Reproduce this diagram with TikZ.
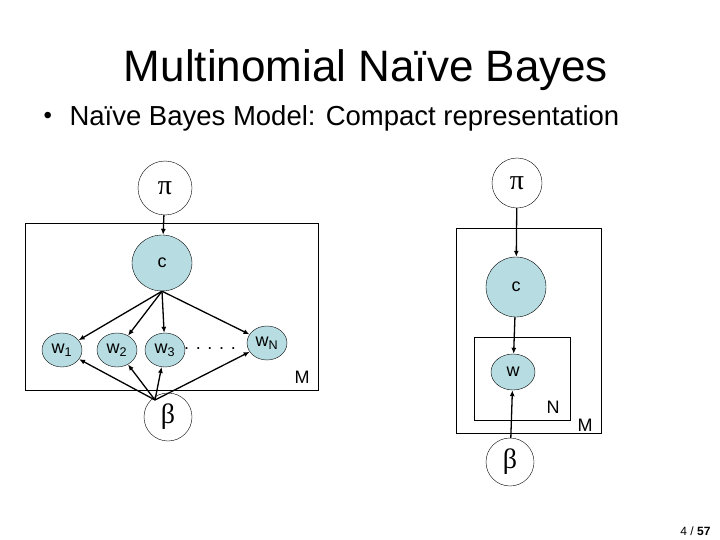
\documentclass[tikz,border=0pt]{standalone}
\usepackage{fontspec}
\setmainfont{Liberation Sans}
\newfontfamily\symf{Liberation Serif}
\usetikzlibrary{arrows.meta,shapes.geometric}
\definecolor{nodeblue}{RGB}{183,221,226}
\begin{document}
\begin{tikzpicture}[x=1pt,y=-1pt,
  var/.style={draw,ellipse,inner sep=0pt},
  obs/.style={var,fill=nodeblue},
  plate/.style={draw},
  arr/.style={-{Latex[length=6pt,width=5pt]},line width=1.3pt},
  lbl/.style={font=\fontsize{18}{18}\selectfont},
  grk/.style={font=\symf\fontsize{28}{28}\selectfont}]
\useasboundingbox (0,0) rectangle (720,540);
\node[font=\fontsize{44}{44}\selectfont] (title) at (366,70) {Multinomial Naïve Bayes};
\node[anchor=west,font=\fontsize{24}{24}\selectfont] (bl) at (40,118) {•};
\node[anchor=west,font=\fontsize{27.5}{27.5}\selectfont] (bul) at (66,118) {Naïve Bayes Model: Compact representation};
% left
\draw[plate] (25,223) rectangle (318,390);
\node[var,minimum width=54pt,minimum height=54pt,grk] (pi1) at (165,188) {π};
\node[obs,minimum width=60pt,minimum height=56pt,lbl] (c1) at (162,263) {c};
\node[obs,minimum width=40pt,minimum height=34pt,lbl] (w1) at (62,350) {w$_{\mathrm{1}}$};
\node[obs,minimum width=40pt,minimum height=34pt,lbl] (w2) at (117,350) {w$_{\mathrm{2}}$};
\node[obs,minimum width=40pt,minimum height=34pt,lbl] (w3) at (165,350) {w$_{\mathrm{3}}$};
\node[obs,minimum width=40pt,minimum height=34pt,lbl] (wn) at (267,343) {w\textsubscript{N}};
\node[lbl] (dots) at (210,349) {. . . . .};
\node[lbl] (m1) at (302,377) {M};
\node[var,minimum width=48pt,minimum height=48pt,grk] (b1) at (168,417) {β};
\coordinate (bo) at (155,400);
\draw[arr] (pi1) -- (c1);
\foreach \t in {w1,w2,w3,wn} \draw[arr] (c1.south) -- (\t);
\foreach \t in {w1,w2,w3,wn} \draw[arr] (bo) -- (\t);
% right
\draw[plate] (456,228) rectangle (601,433);
\draw[plate] (474,337) rectangle (570,420);
\node[var,minimum width=50pt,minimum height=50pt,grk] (pi2) at (517,183) {π};
\node[obs,minimum width=60pt,minimum height=60pt,lbl] (c2) at (516,287) {c};
\node[obs,minimum width=44pt,minimum height=36pt,lbl] (w) at (513,372) {w};
\node[lbl] (n2) at (553,407) {N};
\node[lbl] (m2) at (585,425) {M};
\node[var,minimum width=48pt,minimum height=48pt,grk] (b2) at (510,462) {β};
\draw[arr] (pi2) -- (c2);
\draw[arr] (c2) -- (w);
\draw[arr] (b2) -- (w);
\node[anchor=east,font=\fontsize{12}{12}\selectfont] (pg) at (714,531) {4 / \textbf{57}};
\end{tikzpicture}
\end{document}
